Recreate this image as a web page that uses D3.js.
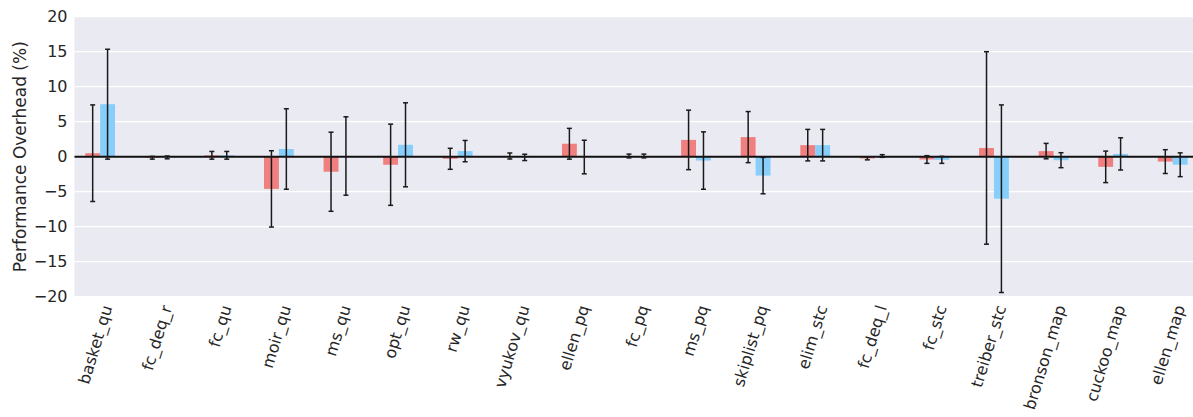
<!DOCTYPE html>
<html>
<head>
<meta charset="utf-8">
<script src="https://cdn.jsdelivr.net/npm/d3@7"></script>
<style>
  body { margin: 0; background: #fff; }
  text { font-family: "DejaVu Sans", sans-serif; fill: #262626; }
</style>
</head>
<body>
<svg id="chart" width="1193" height="417"></svg>
<script>
// benchmarks, in plot order
const categories = ["basket_qu", "fc_deq_r", "fc_qu", "moir_qu", "ms_qu", "opt_qu", "rw_qu",
  "vyukov_qu", "ellen_pq", "fc_pq", "ms_pq", "skiplist_pq", "elim_stc", "fc_deq_l", "fc_stc",
  "treiber_stc", "bronson_map", "cuckoo_map", "ellen_map"];

// first series (red) mean and error
const redValues = [0.5, -0.15, 0.2, -4.6, -2.15, -1.15, -0.3, 0.1, 1.85, 0.1,
  2.4, 2.8, 1.65, -0.25, -0.4, 1.25, 0.8, -1.45, -0.7];
const redErr = [6.9, 0.2, 0.55, 5.45, 5.65, 5.8, 1.5, 0.43, 2.2, 0.27,
  4.25, 3.65, 2.25, 0.2, 0.55, 13.75, 1.1, 2.25, 1.7];

// second series (blue) mean and error
const blueValues = [7.5, -0.1, 0.2, 1.1, 0.1, 1.7, 0.8, -0.1, -0.05, 0.1,
  -0.55, -2.7, 1.65, 0.1, -0.45, -6.0, -0.5, 0.4, -1.15];
const blueErr = [7.85, 0.2, 0.55, 5.75, 5.6, 6.0, 1.52, 0.45, 2.4, 0.27,
  4.1, 2.6, 2.25, 0.19, 0.5, 13.4, 1.07, 2.3, 1.7];

const yTicks = [-20, -15, -10, -5, 0, 5, 10, 15, 20];

const svg = d3.select("svg#chart");
const plotLeft = 74.5, plotRight = 1193, plotTop = 16.7, plotBottom = 296.7;

let x = d3.scaleLinear().domain([-0.43, 18.34]).range([plotLeft, plotRight]);
let y = d3.scaleLinear().domain([-20, 20]).range([plotBottom, plotTop]);
let barW = x(0.25) - x(0);

svg.append("rect")
  .attr("x", plotLeft).attr("y", plotTop)
  .attr("width", plotRight - plotLeft).attr("height", plotBottom - plotTop)
  .attr("fill", "#eaeaf2");

// grid
svg.append("g").selectAll("line").data(yTicks).enter().append("line")
  .attr("x1", plotLeft).attr("x2", plotRight)
  .attr("y1", d => y(d)).attr("y2", d => y(d))
  .attr("stroke", "#fff").attr("stroke-width", 1.2);

// y axis labels
svg.append("g").selectAll("text").data(yTicks).enter().append("text")
  .attr("x", plotLeft - 7)
  .attr("y", d => y(d))
  .attr("dy", "0.36em")
  .attr("text-anchor", "end")
  .attr("font-size", "16px")
  .text(d => d < 0 ? "\u2212" + Math.abs(d) : d);

svg.append("text")
  .attr("transform", "translate(26," + y(0) + ") rotate(-90)")
  .attr("text-anchor", "middle")
  .attr("font-size", "17px")
  .text("Performance Overhead (%)");

// bars for one series
function drawSeries(values, errs, offset, color) {
  let rows = values.map((v, i) => ({ i: i, v: v, e: errs[i] }));
  let g = svg.append("g");
  g.selectAll("rect").data(rows).enter().append("rect")
    .attr("x", d => x(d.i + offset) - barW / 2)
    .attr("width", barW)
    .attr("y", d => y(Math.max(0, d.v)))
    .attr("height", d => Math.abs(y(d.v) - y(0)))
    .attr("fill", color);
  return rows;
}

function drawErrors(rows, offset) {
  let g = svg.append("g").attr("stroke", "#1a1a1a").attr("stroke-width", 1.5);
  rows.forEach(function(d) {
    let cx = x(d.i + offset);
    g.append("line").attr("x1", cx).attr("x2", cx)
      .attr("y1", y(d.v + d.e)).attr("y2", y(d.v - d.e));
    [d.v + d.e, d.v - d.e].forEach(function(t) {
      g.append("line").attr("x1", cx - 2.5).attr("x2", cx + 2.5)
        .attr("y1", y(t)).attr("y2", y(t));
    });
  });
}

let redRows = drawSeries(redValues, redErr, -0.125, "#f08080");
let blueRows = drawSeries(blueValues, blueErr, 0.125, "#87cefa");

// zero line
svg.append("line")
  .attr("x1", plotLeft).attr("x2", plotRight)
  .attr("y1", y(0)).attr("y2", y(0))
  .attr("stroke", "#111").attr("stroke-width", 2);

drawErrors(redRows, -0.125);
drawErrors(blueRows, 0.125);

// rotated category labels
svg.append("g").selectAll("text").data(categories).enter().append("text")
  .attr("transform", (d, i) => "translate(" + (x(i) + 7) + "," + (plotBottom + 9) + ") rotate(-73)")
  .attr("text-anchor", "end")
  .attr("dy", "0.35em")
  .attr("font-size", "16px")
  .text(d => d);
</script>
</body>
</html>
